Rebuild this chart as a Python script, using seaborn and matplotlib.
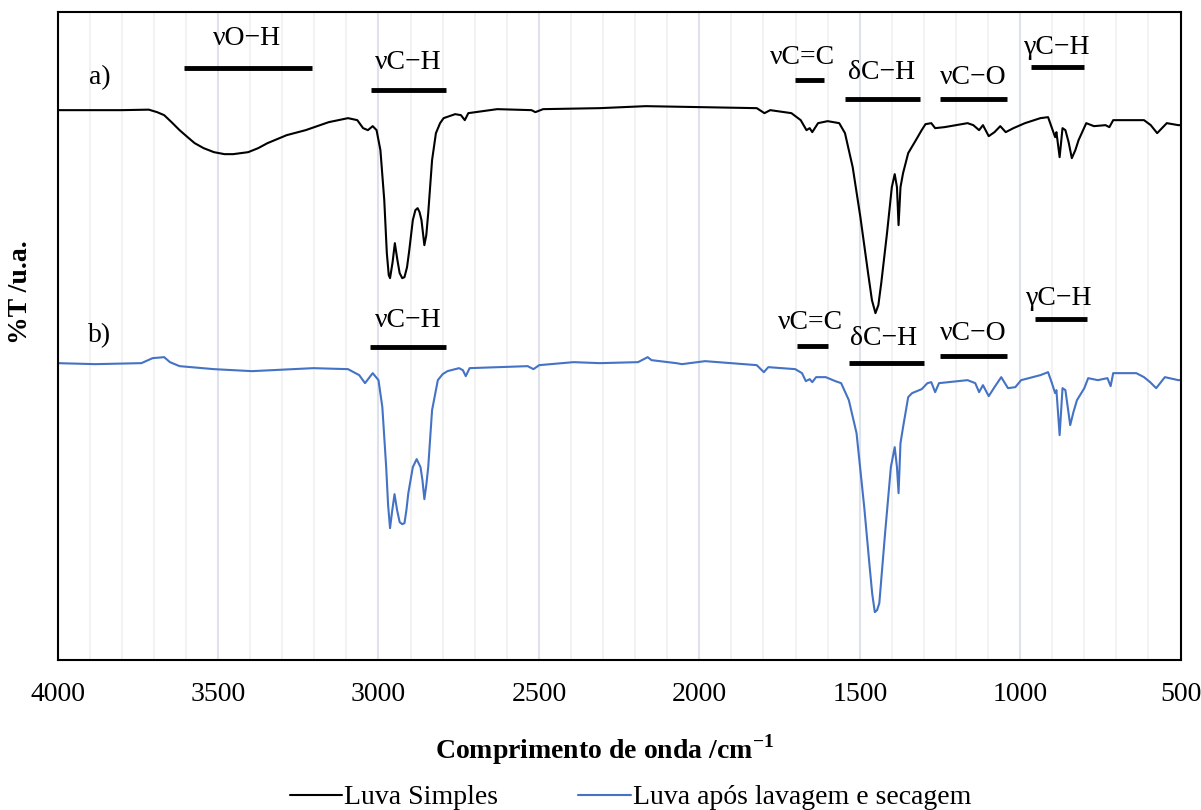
import numpy as np
import pandas as pd
import seaborn as sns
import matplotlib.pyplot as plt
from matplotlib.ticker import MultipleLocator

# wavenumber (cm-1) and transmittance (arbitrary units)
wn_a = [4000, 3800, 3716, 3690, 3668, 3645, 3620, 3595, 3573, 3545, 3513, 3480, 3453, 3430,
        3406, 3375, 3346, 3286, 3227, 3155, 3095,
        3066, 3048, 3033, 3018, 3006, 2994, 2982, 2974, 2968, 2964, 2956, 2949, 2941, 2934,
        2926, 2919, 2911, 2904, 2893, 2885, 2878, 2872, 2866, 2857, 2851, 2845, 2833, 2821,
        2808, 2797, 2761, 2743, 2731, 2720, 2630,
        2523, 2511, 2487, 2310, 2167, 2000, 1821, 1797, 1779, 1713, 1684, 1666, 1656,
        1648, 1630, 1600, 1564, 1546, 1522, 1498, 1474, 1462, 1451, 1442, 1433, 1415, 1400, 1391,
        1384, 1379, 1373, 1365, 1349, 1325, 1307, 1295, 1277, 1265, 1236, 1164, 1146,
        1128, 1116, 1098, 1080, 1062, 1045, 1021, 985, 937, 913, 901, 891, 887, 877,
        868, 859, 849, 839, 828, 818, 794, 770, 734, 722, 710, 614, 593, 573, 543, 507, 500]
t_a = [550, 550, 550.5, 548, 545, 538, 530, 523, 517, 512, 508, 506, 506, 507,
       508, 512, 517, 525, 530, 538, 542,
       540, 532, 530, 534, 530, 510, 460, 407, 385, 382, 398, 417, 400, 387,
       382, 383, 393, 410, 440, 450, 452, 448, 440, 415, 425, 447, 500, 527,
       537, 542, 546, 545, 540, 547, 551,
       550, 548, 551, 552, 554, 553, 552, 547, 550, 547, 540, 530, 532,
       528, 537, 539, 537, 527, 493, 443, 387, 360, 347, 355, 377, 427, 473, 486,
       473, 435, 473, 487, 507, 520, 530, 536, 537, 532, 533, 537, 535,
       530, 535, 524, 528, 534, 528, 532, 537, 542, 543, 532, 523, 528, 503,
       532, 530, 518, 502, 510, 520, 537, 534, 535, 533, 540, 540, 535, 527, 537, 535, 535]

wn_b = [4000, 3883, 3739, 3704, 3668, 3650, 3620, 3513, 3394, 3203, 3095, 3060, 3042,
        3018, 3000, 2988, 2976, 2970, 2964, 2957, 2950, 2942, 2934, 2926, 2919, 2913, 2907,
        2893, 2881, 2869, 2863, 2857, 2851, 2845, 2833, 2815, 2800, 2785, 2749, 2737, 2728,
        2716, 2535, 2517, 2499, 2392, 2310,
        2191, 2161, 2149, 2072, 2054, 1982, 1821, 1799, 1785, 1701, 1680, 1668, 1656,
        1648, 1636, 1606, 1576, 1558, 1534, 1510, 1486, 1469, 1461, 1453, 1446, 1439, 1421,
        1403, 1391, 1384, 1379, 1373, 1365, 1349, 1337, 1307, 1289, 1277, 1265, 1253, 1164,
        1140, 1128, 1116, 1098, 1080, 1059, 1038, 1015, 997, 937, 913, 901, 891, 887,
        877, 868, 859, 844, 834, 823, 800, 788, 758, 728, 718, 710, 638, 614, 595, 576,
        549, 507, 500]
t_b = [297, 296, 297, 302, 303, 298, 294, 291, 289, 292, 291, 285, 277,
       287, 280, 253, 193, 155, 132, 150, 166, 150, 138, 136, 137, 150, 167,
       193, 201, 193, 180, 161, 175, 193, 250, 280, 286, 289, 292, 290, 284,
       292, 294, 291, 295, 298, 297,
       298, 303, 300, 297, 296, 299, 295, 288, 293, 291, 287, 279, 281,
       278, 283, 283, 279, 277, 260, 227, 153, 93, 66, 48, 50, 57, 127,
       193, 213, 193, 167, 217, 233, 263, 267, 271, 277, 278, 268, 277, 280,
       277, 268, 275, 264, 273, 283, 272, 273, 280, 285, 288, 277, 267, 270,
       225, 272, 270, 235, 248, 260, 272, 282, 280, 282, 274, 287, 287, 283, 278, 272,
       283, 280, 280]

series_names = ['Luva Simples', 'Luva após lavagem e secagem']
series_colors = ['#000000', '#4472C4']

# band labels: (text, text position, bar start, bar end, text height, bar height)
labels_a = [
    ('νO−H', 3411, 3607, 3208, 622, 592),
    ('νC−H', 2906, 3024, 2791, 598, 570),
    ('νC=C', 1678, 1703, 1610, 603, 580),
    ('δC−H', 1432, 1547, 1313, 588, 561),
    ('νC−O', 1145, 1251, 1042, 583, 561),
    ('γC−H', 883, 967, 802, 613, 593),
]
labels_b = [
    ('νC−H', 2906, 3028, 2791, 340, 313),
    ('νC=C', 1653, 1697, 1600, 338, 314),
    ('δC−H', 1426, 1535, 1301, 322, 297),
    ('νC−O', 1145, 1251, 1042, 327, 304),
    ('γC−H', 877, 955, 793, 362, 341),
]

df = pd.concat([
    pd.DataFrame({'wn': wn_a, 'T': t_a, 'serie': series_names[0]}),
    pd.DataFrame({'wn': wn_b, 'T': t_b, 'serie': series_names[1]}),
])

sns.set_theme(style='white')
plt.rcParams['font.family'] = ['Liberation Serif', 'DejaVu Serif']
plt.rcParams['text.color'] = 'black'
plt.rcParams['axes.labelcolor'] = 'black'
plt.rcParams['xtick.color'] = 'black'
plt.rcParams['mathtext.fontset'] = 'custom'
plt.rcParams['mathtext.rm'] = 'Liberation Serif'
plt.rcParams['mathtext.bf'] = 'Liberation Serif:bold'

fig, ax = plt.subplots(figsize=(12.01, 8.10), dpi=100)
fig.subplots_adjust(left=0.048, right=0.983, top=0.985, bottom=0.185)

sns.lineplot(data=df, x='wn', y='T', hue='serie', palette=series_colors,
             sort=False, estimator=None, linewidth=1.5, ax=ax)

ax.set_xlim(4000, 500)
ax.set_ylim(0, 648)
ax.xaxis.set_major_locator(MultipleLocator(500))
ax.xaxis.set_minor_locator(MultipleLocator(100))
ax.grid(which='major', axis='x', color='#dde2ec', linewidth=1.5)
ax.grid(which='minor', axis='x', color='#f0f0f0', linewidth=1.2)
ax.set_axisbelow(True)
ax.set_yticks([])
ax.tick_params(axis='x', which='both', length=0, labelsize=20, pad=16)
for sp in ax.spines.values():
    sp.set_color('black')
    sp.set_linewidth(1.5)

for lab in labels_a + labels_b:
    txt, xt, x0, x1, yt, yb = lab
    ax.text(xt, yt, txt, ha='center', va='center', fontsize=20)
    ax.plot([x0, x1], [yb, yb], color='black', linewidth=3.5, solid_capstyle='butt')

ax.text(3870, 583, 'a)', ha='center', va='center', fontsize=20)
ax.text(3870, 325, 'b)', ha='center', va='center', fontsize=20)

ax.set_xlabel(r'Comprimento de onda /cm$^{\mathbf{-1}}$', fontsize=20, fontweight='bold')
ax.xaxis.set_label_coords(0.487, -0.112)
ax.set_ylabel('%T /u.a.', fontsize=20, fontweight='bold')
ax.yaxis.set_label_coords(-0.022, 0.568)

handles, lbls = ax.get_legend_handles_labels()
ax.legend(handles, lbls, loc='center', bbox_to_anchor=(0.51, -0.212), ncol=2,
          frameon=False, fontsize=20, handlelength=1.9, handletextpad=0.05,
          columnspacing=2.9)

plt.savefig('out.png', dpi=100)
plt.close()
